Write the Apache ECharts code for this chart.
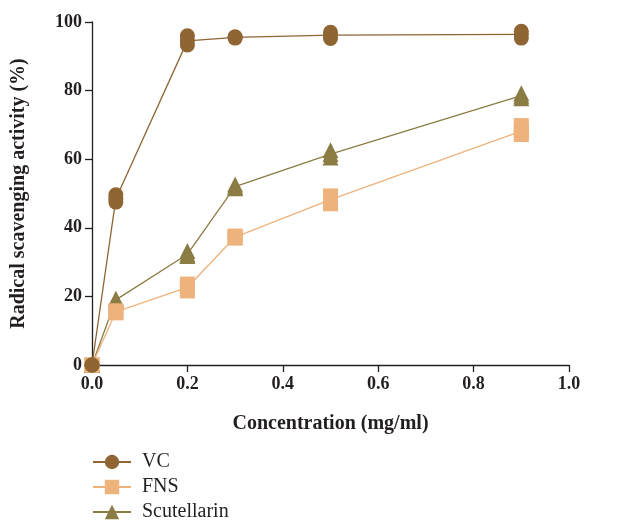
<!DOCTYPE html>
<html>
<head>
<meta charset="utf-8">
<script src="https://cdn.jsdelivr.net/npm/echarts@6/dist/echarts.min.js"></script>
<style>html,body{margin:0;padding:0;background:#fff}#c{width:625px;height:523px}</style>
</head>
<body>
<div id="c"></div>
<script>
const concentrations = [0, 0.05, 0.2, 0.3, 0.5, 0.9];
const seriesNames = ['VC', 'FNS', 'Scutellarin'];
// line values (as drawn)
const vcLine = [0, 48.5, 94.5, 95.5, 96.2, 96.4];
const fnsLine = [0, 15.5, 22.6, 37.3, 48.2, 68.2];
const scuLine = [0, 19, 32.3, 52, 61.5, 78.5];
// individual replicate readings
const vcRepA = [0, 49.6, 96.0, 95.7, 97.0, 97.3];
const vcRepB = [0, 47.5, 93.3, 95.3, 95.2, 95.3];
const fnsRepA = [0, 15.8, 23.6, 37.6, 49.3, 69.8];
const fnsRepB = [0, 15.2, 21.6, 37.0, 47.0, 67.2];
const scuRepA = [0, 19.3, 33.2, 52.6, 62.6, 79.2];
const scuRepB = [0, 18.8, 31.8, 51.5, 60.5, 77.8];
const yTicks = [0, 20, 40, 60, 80, 100];
const xTicks = [0, 0.2, 0.4, 0.6, 0.8, 1.0];

const colors = ['#8f6534', '#eeb27d', '#8a7c43'];
const symbols = ['circle', 'rect', 'triangle'];
const sizes = [15, 15, 16];
const lines = [vcLine, fnsLine, scuLine];
const reps = [[vcRepA, vcRepB], [fnsRepA, fnsRepB], [scuRepA, scuRepB]];
const pair = (arr) => concentrations.map((x, i) => [x, arr[i]]);

const series = [];
// draw order: Scutellarin, FNS, VC on top
[2, 1, 0].forEach(k => {
  reps[k].forEach((r, j) => {
    series.push({
      name: seriesNames[k] + '_rep' + j,
      type: 'scatter',
      data: pair(r),
      symbol: symbols[k],
      symbolSize: sizes[k],
      itemStyle: { color: colors[k], opacity: 1 },
      z: 2 + (2 - k),
      silent: true
    });
  });
  series.push({
    name: seriesNames[k],
    type: 'line',
    data: pair(lines[k]),
    symbol: symbols[k],
    symbolSize: sizes[k],
    showSymbol: true,
    showAllSymbol: true,
    lineStyle: { color: colors[k], width: 1.3 },
    itemStyle: { color: colors[k], opacity: 1 },
    z: 2 + (2 - k)
  });
});

const chart = echarts.init(document.getElementById('c'), null, { renderer: 'canvas' });
const textColor = '#231f20';
const serif = '"Liberation Serif", "DejaVu Serif", serif';
chart.setOption({
  animation: false,
  backgroundColor: '#ffffff',
  grid: { left: 92, right: 56, top: 22, bottom: 158, containLabel: false },
  xAxis: {
    type: 'value', min: 0, max: 1.0, interval: 0.2,
    name: 'Concentration (mg/ml)', nameLocation: 'middle', nameGap: 49,
    nameTextStyle: { fontFamily: serif, fontWeight: 'bold', fontSize: 20, color: textColor },
    axisLine: { show: true, onZero: false, lineStyle: { color: '#231f20', width: 1.3 } },
    axisTick: { show: true, length: 7, lineStyle: { color: '#231f20', width: 1.3 } },
    axisLabel: { fontFamily: serif, fontWeight: 'bold', fontSize: 18, color: textColor, margin: 10,
      formatter: v => xTicks.includes(Math.round(v*10)/10) ? v.toFixed(1) : '' },
    splitLine: { show: false }
  },
  yAxis: {
    type: 'value', min: 0, max: 100, interval: 20,
    name: 'Radical scavenging activity (%)', nameLocation: 'middle', nameGap: 63, nameRotate: 90,
    nameTextStyle: { fontFamily: serif, fontWeight: 'bold', fontSize: 20, color: textColor },
    axisLine: { show: true, onZero: false, lineStyle: { color: '#231f20', width: 1.3 } },
    axisTick: { show: true, length: 7, lineStyle: { color: '#231f20', width: 1.3 } },
    axisLabel: { fontFamily: serif, fontWeight: 'bold', fontSize: 18, color: textColor, margin: 10,
      formatter: v => yTicks.includes(v) ? String(v) : '' },
    splitLine: { show: false }
  },
  legend: {
    data: seriesNames,
    orient: 'vertical',
    left: 92, top: 452, padding: 0,
    itemWidth: 38, itemHeight: 18, itemGap: 5,
    textStyle: { fontFamily: serif, fontSize: 20, color: textColor, padding: [0, 0, 0, 6] },
    selectedMode: false
  },
  series: series
});
</script>
</body>
</html>
